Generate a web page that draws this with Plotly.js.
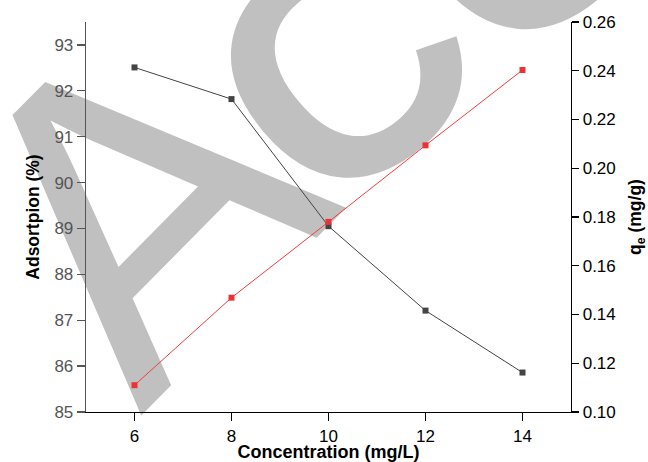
<!DOCTYPE html>
<html>
<head>
<meta charset="utf-8">
<script src="https://cdn.plot.ly/plotly-3.0.1.min.js"></script>
<style>html,body{margin:0;padding:0;background:#fff;}#chart{width:648px;height:462px;}</style>
</head>
<body>
<div id="chart"></div>
<script>
var concentration = [6, 8, 10, 12, 14];
var adsorption = [92.51, 91.82, 89.05, 87.21, 85.86];
var qe = [0.111, 0.1469, 0.178, 0.2094, 0.2403];
var xTicks = [6, 8, 10, 12, 14];
var leftTicks = [85, 86, 87, 88, 89, 90, 91, 92, 93];
var rightTicks = [0.10, 0.12, 0.14, 0.16, 0.18, 0.20, 0.22, 0.24, 0.26];

var FONT = "'Liberation Sans', Arial, sans-serif";
var WM = 'rgb(192,192,192)';

var traces = [
  {
    x: concentration, y: adsorption, type: 'scatter', mode: 'lines+markers',
    line: {color: '#444444', width: 1},
    marker: {symbol: 'square', size: 6, color: '#444444'},
    yaxis: 'y', showlegend: false
  },
  {
    x: concentration, y: qe, type: 'scatter', mode: 'lines+markers',
    line: {color: 'rgb(245,60,60)', width: 1},
    marker: {symbol: 'square', size: 6, color: 'rgb(235,50,55)'},
    yaxis: 'y2', showlegend: false
  }
];

var layout = {
  width: 648, height: 462,
  margin: {l: 86, r: 77, t: 22, b: 50, pad: 0},
  paper_bgcolor: '#ffffff',
  plot_bgcolor: 'rgba(0,0,0,0)',
  font: {family: FONT, size: 17, color: '#000'},
  showlegend: false,
  xaxis: {
    range: [5, 15], tickvals: xTicks, ticktext: xTicks.map(String),
    showgrid: false, zeroline: false,
    showline: true, linecolor: '#000', linewidth: 1.3,
    ticks: 'outside', ticklen: 8, tickwidth: 1.3, tickcolor: '#000',
    tickfont: {family: FONT, size: 17, color: '#000'},
    title: {text: '<b>Concentration (mg/L)</b>', font: {family: FONT, size: 18, color: '#000'}, standoff: 3}
  },
  yaxis: {
    range: [85, 93.5], tickvals: leftTicks, ticktext: leftTicks.map(String),
    showgrid: false, zeroline: false,
    showline: true, linecolor: '#555', linewidth: 1.3,
    ticks: 'outside', ticklen: 8, tickwidth: 1.3, tickcolor: '#555',
    tickfont: {family: FONT, size: 17, color: '#555'},
    title: {text: '<b>Adsortpion (%)</b>', font: {family: FONT, size: 17.5, color: '#000'}, standoff: 10}
  },
  yaxis2: {
    overlaying: 'y', side: 'right',
    range: [0.10, 0.26], tickvals: rightTicks, ticktext: rightTicks.map(function(v){return v.toFixed(2);}),
    showgrid: false, zeroline: false,
    showline: true, linecolor: '#000', linewidth: 1.3,
    ticks: 'outside', ticklen: 7, tickwidth: 1.3, tickcolor: '#000',
    tickfont: {family: FONT, size: 17, color: '#000'},
    title: {text: '<b>q<sub>e</sub> (mg/g)</b>', font: {family: FONT, size: 17.5, color: '#000'}, standoff: 15}
  },
  shapes: [
    {
      type: 'line', xref: 'paper', yref: 'paper', layer: 'below',
      x0: 0.1876, y0: -0.1026, x1: 0.761, y1: 0.6205,
      line: {color: 'rgba(0,0,0,0)', width: 0},
      label: {
        text: 'A',
        font: {family: FONT, size: 440, color: WM},
        textposition: 'start', xanchor: 'left', yanchor: 'bottom', padding: 0
      }
    },
    {
      type: 'line', xref: 'paper', yref: 'paper', layer: 'below',
      x0: 0.5423, y0: 0.4051, x1: 1.0165, y1: 0.9000,
      line: {color: 'rgba(0,0,0,0)', width: 0},
      label: {
        text: 'CCEPTED',
        font: {family: FONT, size: 320, weight: 'bold', color: WM},
        textposition: 'start', xanchor: 'left', yanchor: 'bottom', padding: 0
      }
    }
  ]
};

Plotly.newPlot('chart', traces, layout, {staticPlot: true, displayModeBar: false});
</script>
</body>
</html>
